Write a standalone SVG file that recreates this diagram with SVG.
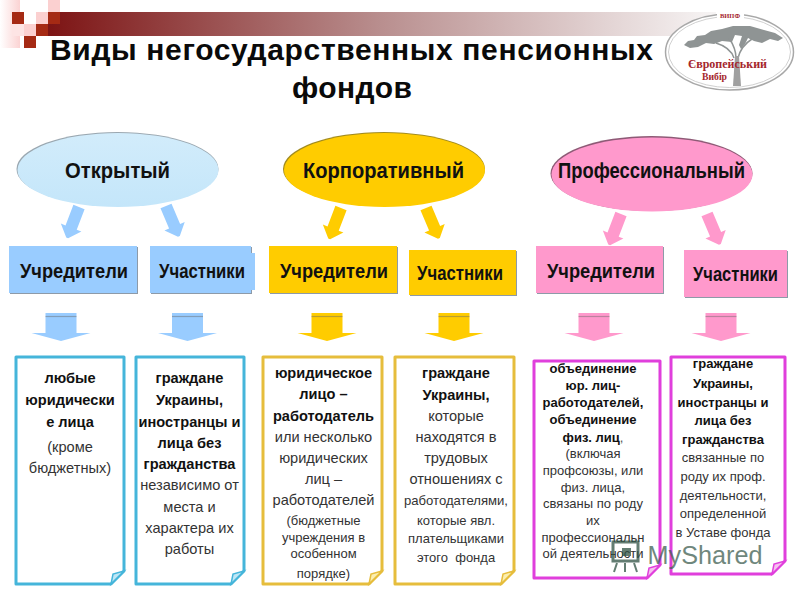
<svg xmlns="http://www.w3.org/2000/svg" width="800" height="600" viewBox="0 0 800 600">
<style>
text{font-family:"Liberation Sans",Arial,sans-serif;text-anchor:middle}
.title{font-size:30px;font-weight:700;fill:#0a0a0a}
.head{font-size:22px;font-weight:700;fill:#111}
.sub{font-size:20px;font-weight:700;fill:#111}
.b{font-size:14.600px;font-weight:700;fill:#111}
.r{font-size:14.600px;fill:#333}
.s{font-size:13px;fill:#333}
.bs{font-size:13px;font-weight:700;fill:#111}
.logo{font-family:"Liberation Serif",serif;font-weight:700;fill:#a5262c}
.nb{fill:#fff;stroke:#45b5da;stroke-width:3;stroke-linejoin:round}
.ny{fill:#fff;stroke:#e6bd3c;stroke-width:3;stroke-linejoin:round}
.np{fill:#fff;stroke:#e03fdc;stroke-width:3;stroke-linejoin:round}
.fb{fill:#bfe6f5;stroke:#45b5da;stroke-width:1.500}
.fy{fill:#fbeeb0;stroke:#e6bd3c;stroke-width:1.500}
.fp{fill:#f6c0f0;stroke:#e03fdc;stroke-width:1.500}
.blue{fill:#99ccff}
.yellow{fill:#ffcc00}
.pink{fill:#ff99cc}
.sh{fill:#8d9aa8}
</style>
<defs>
<linearGradient id="bar" x1="0" x2="1" y1="0" y2="0"><stop offset="0" stop-color="#7d1414"/><stop offset="0.5" stop-color="#b98f8f"/><stop offset="1" stop-color="#f7f5f5"/></linearGradient>
<linearGradient id="pale" x1="0" x2="1" y1="0" y2="0"><stop offset="0" stop-color="#fff"/><stop offset="1" stop-color="#fbd3d3"/></linearGradient>
<linearGradient id="sky" x1="0" x2="0" y1="0" y2="1"><stop offset="0" stop-color="#d2ecfb"/><stop offset="1" stop-color="#c4e6fa"/></linearGradient>
<path id="slant" d="M-6 0L6 0L6 22L11 22L1 33H-1L-11 22L-6 22Z"/>
<g id="down"><path d="M-15.500 0H15.500V20H29.500L0 28L-29.500 20H-15.500Z"/><path d="M-15.500 3.500H15.500" stroke="#666" stroke-opacity=".45" stroke-width="1.200" fill="none"/></g>
</defs>

<g id="decor">
<rect x="0" y="0" width="20" height="48" fill="url(#pale)"/>
<rect x="48" y="12" width="668" height="24" fill="url(#bar)"/>
<rect x="48" y="0" width="12" height="12" fill="#fbd0d0"/>
<rect x="36" y="12" width="12" height="12" fill="#fbd0d0"/>
<rect x="24" y="24" width="12" height="12" fill="#fbd0d0"/>
<rect x="12" y="24" width="12" height="12" fill="#fde4e4"/>
<rect x="12" y="12" width="12" height="12" fill="#a52a14"/>
<rect x="48" y="12" width="12" height="12" fill="#a52a14"/>
<rect x="36" y="24" width="12" height="12" fill="#a52a14"/>
<rect x="24" y="36" width="12" height="12" fill="#a52a14"/>
</g>

<g id="title">
<text class="title" x="351.500" y="60" textLength="603" lengthAdjust="spacing">Виды негосударственных пенсионных</text>
<text class="title" x="352" y="98" textLength="120" lengthAdjust="spacing">фондов</text>
</g>

<g id="logo">
<ellipse cx="729.500" cy="52" rx="64" ry="38" fill="#fff" stroke="#a8a8a8" stroke-width="1.500"/>
<ellipse cx="729.500" cy="52" rx="61" ry="35.500" fill="none" stroke="#c4c4c4" stroke-width=".8"/>
<path d="M684 45L688 41L694 40L697 36L705 35L711 31L722 29L733 26L750 26L764 30L775 33L783 38L778 41L770 39L762 43L754 41L748 38L745 44L741 49L739 45L742 36L735 35L732 42L722 41L714 44L706 43L698 47L690 48Z" fill="#8f9494"/>
<path d="M734 58C732 52 726 46 716 43M736 58C736 50 733 44 729 38M738 58C740 50 744 44 752 39" fill="none" stroke="#8f9494" stroke-width="1.500"/>
<path d="M733 86L735 56H739L741 86Z" fill="#a0a0a0"/>
<rect x="717" y="11" width="27" height="9" fill="#fff"/>
<text class="logo" x="730" y="18" font-size="6.500" textLength="20">ВИПФ</text>
<text class="logo" x="727.500" y="68" font-size="12" textLength="79" lengthAdjust="spacingAndGlyphs">Європейський</text>
<text class="logo" x="714.500" y="80" font-size="11" textLength="25" lengthAdjust="spacingAndGlyphs">Вибір</text>
</g>

<g id="connectors">
<use href="#slant" class="blue" transform="translate(79 207) rotate(21)"/>
<use href="#slant" class="blue" transform="translate(166 206) rotate(-23)"/>
<use href="#slant" class="yellow" transform="translate(341 208) rotate(21)"/>
<use href="#slant" class="yellow" transform="translate(426 208) rotate(-23)"/>
<use href="#slant" class="pink" transform="translate(621 214) rotate(21)"/>
<use href="#slant" class="pink" transform="translate(707 214) rotate(-23)"/>
<use href="#down" class="blue" transform="translate(61 313)"/>
<use href="#down" class="blue" transform="translate(187.500 313)"/>
<use href="#down" class="yellow" transform="translate(327 313)"/>
<use href="#down" class="yellow" transform="translate(454 313)"/>
<use href="#down" class="pink" transform="translate(594 313)"/>
<use href="#down" class="pink" transform="translate(721 313)"/>
</g>

<g id="open">
<ellipse cx="117.500" cy="169" rx="101" ry="37" fill="#9aa7b0"/>
<ellipse cx="118" cy="170" rx="100.500" ry="37" fill="url(#sky)"/>
<text class="head" x="117.500" y="178" textLength="105" lengthAdjust="spacingAndGlyphs">Открытый</text>
</g>
<g id="corporate">
<ellipse cx="384" cy="169" rx="101" ry="37" fill="#a08a20"/>
<ellipse cx="384.500" cy="170" rx="100.500" ry="37" class="yellow"/>
<text class="head" x="383.500" y="178" textLength="161" lengthAdjust="spacingAndGlyphs">Корпоративный</text>
</g>
<g id="professional">
<ellipse cx="651.500" cy="173.500" rx="101" ry="37.500" fill="#8e5a76"/>
<ellipse cx="652" cy="174.500" rx="100.500" ry="37" class="pink"/>
<text class="head" x="651.500" y="178" textLength="187" lengthAdjust="spacingAndGlyphs">Профессиональный</text>
</g>

<g id="open-founders">
<rect x="10" y="247" width="128" height="47" class="sh"/>
<rect x="9" y="246" width="128" height="47" class="blue"/>
<text class="sub" x="74" y="278" textLength="108" lengthAdjust="spacingAndGlyphs">Учредители</text>
</g>
<g id="open-members">
<rect x="151" y="247" width="101" height="47" class="sh"/>
<rect x="250" y="253" width="5" height="37" class="blue"/>
<rect x="150" y="246" width="101" height="47" class="blue"/>
<text class="sub" x="202" y="278" textLength="86" lengthAdjust="spacingAndGlyphs">Участники</text>
</g>
<g id="corp-founders">
<rect x="270" y="247" width="128" height="47" class="sh"/>
<rect x="269" y="246" width="128" height="47" class="yellow"/>
<text class="sub" x="334" y="278" textLength="108" lengthAdjust="spacingAndGlyphs">Учредители</text>
</g>
<g id="corp-members">
<rect x="410" y="251" width="107" height="45" class="sh"/>
<rect x="409" y="250" width="107" height="45" class="yellow"/>
<text class="sub" x="460" y="280" textLength="86" lengthAdjust="spacingAndGlyphs">Участники</text>
</g>
<g id="prof-founders">
<rect x="537" y="247" width="127" height="47" class="sh"/>
<rect x="536" y="246" width="127" height="47" class="pink"/>
<text class="sub" x="601" y="278" textLength="108" lengthAdjust="spacingAndGlyphs">Учредители</text>
</g>
<g id="prof-members">
<rect x="685" y="251" width="103" height="47" class="sh"/>
<rect x="684" y="250" width="103" height="47" class="pink"/>
<text class="sub" x="735.500" y="281" textLength="85" lengthAdjust="spacingAndGlyphs">Участники</text>
</g>

<g id="note-open-founders">
<path class="nb" d="M16 357H124V571L111 584H16Z"/><path class="fb" d="M124 571L113 574L111 584Z"/>
<text class="b" x="70" y="383">любые</text>
<text class="b" x="70" y="405">юридически</text>
<text class="b" x="70" y="427">е лица</text>
<text class="r" x="70" y="452">(кроме</text>
<text class="r" x="70" y="473">бюджетных)</text>
</g>
<g id="note-open-members">
<path class="nb" d="M136 357H244V571L231 584H136Z"/><path class="fb" d="M244 571L233 574L231 584Z"/>
<text class="b" x="189.500" y="383">граждане</text>
<text class="b" x="189.500" y="405">Украины,</text>
<text class="b" x="189.500" y="427">иностранцы и</text>
<text class="b" x="189.500" y="448">лица без</text>
<text class="b" x="189.500" y="469">гражданства</text>
<text class="r" x="189.500" y="490">независимо от</text>
<text class="r" x="189.500" y="512">места и</text>
<text class="r" x="189.500" y="533">характера их</text>
<text class="r" x="189.500" y="554">работы</text>
</g>
<g id="note-corp-founders">
<path class="ny" d="M263 357H382V571L369 584H263Z"/><path class="fy" d="M382 571L371 574L369 584Z"/>
<text class="b" x="323.500" y="378">юридическое</text>
<text class="b" x="323.500" y="399">лицо –</text>
<text class="b" x="323.500" y="421">работодатель</text>
<text class="r" x="323.500" y="442">или несколько</text>
<text class="r" x="323.500" y="463">юридических</text>
<text class="r" x="323.500" y="484">лиц –</text>
<text class="r" x="323.500" y="505">работодателей</text>
<text class="s" x="323.500" y="525">(бюджетные</text>
<text class="s" x="323.500" y="542">учреждения в</text>
<text class="s" x="323.500" y="558">особенном</text>
<text class="s" x="323.500" y="578">порядке)</text>
</g>
<g id="note-corp-members">
<path class="ny" d="M395 357H514V571L501 584H395Z"/><path class="fy" d="M514 571L503 574L501 584Z"/>
<text class="b" x="456" y="378">граждане</text>
<text class="b" x="456" y="400">Украины,</text>
<text class="r" x="456" y="421">которые</text>
<text class="r" x="456" y="442">находятся в</text>
<text class="r" x="456" y="463">трудовых</text>
<text class="r" x="456" y="484">отношениях с</text>
<text class="s" x="456" y="505" textLength="104" lengthAdjust="spacingAndGlyphs">работодателями,</text>
<text class="s" x="456" y="525">которые явл.</text>
<text class="s" x="456" y="543">плательщиками</text>
<text class="s" x="456" y="562" xml:space="preserve">этого  фонда</text>
</g>
<g id="note-prof-founders">
<path class="np" d="M534 361H660V565L647 578H534Z"/><path class="fp" d="M660 565L649 568L647 578Z"/>
<text class="bs" x="593" y="373">объединение</text>
<text class="bs" x="593" y="390">юр. лиц-</text>
<text class="bs" x="593" y="407">работодателей,</text>
<text class="bs" x="593" y="424">объединение</text>
<text class="bs" x="593" y="442">физ. лиц<tspan style="font-weight:400;fill:#555">,</tspan></text>
<text class="s" x="593" y="458">(включая</text>
<text class="s" x="593" y="475">профсоюзы, или</text>
<text class="s" x="593" y="492">физ. лица,</text>
<text class="s" x="593" y="508">связаны по роду</text>
<text class="s" x="593" y="525">их</text>
<text class="s" x="593" y="542">профессиональн</text>
<text class="s" x="593" y="558">ой деятельности</text>
</g>
<g id="note-prof-members">
<path class="np" d="M671 357H785V561L772 574H671Z"/><path class="fp" d="M785 561L774 564L772 574Z"/>
<text class="bs" x="723" y="368">граждане</text>
<text class="bs" x="723" y="388">Украины,</text>
<text class="bs" x="723" y="407">иностранцы и</text>
<text class="bs" x="723" y="425">лица без</text>
<text class="bs" x="723" y="444">гражданства</text>
<text class="s" x="723" y="462">связанные по</text>
<text class="s" x="723" y="481">роду их проф.</text>
<text class="s" x="723" y="500">деятельности,</text>
<text class="s" x="723" y="518">определенной</text>
<text class="s" x="723" y="537">в Уставе фонда</text>
</g>

<g id="watermark" opacity=".75">
<rect x="613" y="542" width="25" height="19" fill="none" stroke="#2f5244" stroke-width="3"/>
<rect x="622" y="548" width="9" height="8" fill="#2f5244"/>
<path d="M617 563L614 572M625 563V572M634 563L637 572" stroke="#2f5244" stroke-width="2" fill="none"/>
<text x="705" y="564" font-size="25" textLength="115" lengthAdjust="spacingAndGlyphs" style="fill:#3f5f52">MyShared</text>
</g>
</svg>
